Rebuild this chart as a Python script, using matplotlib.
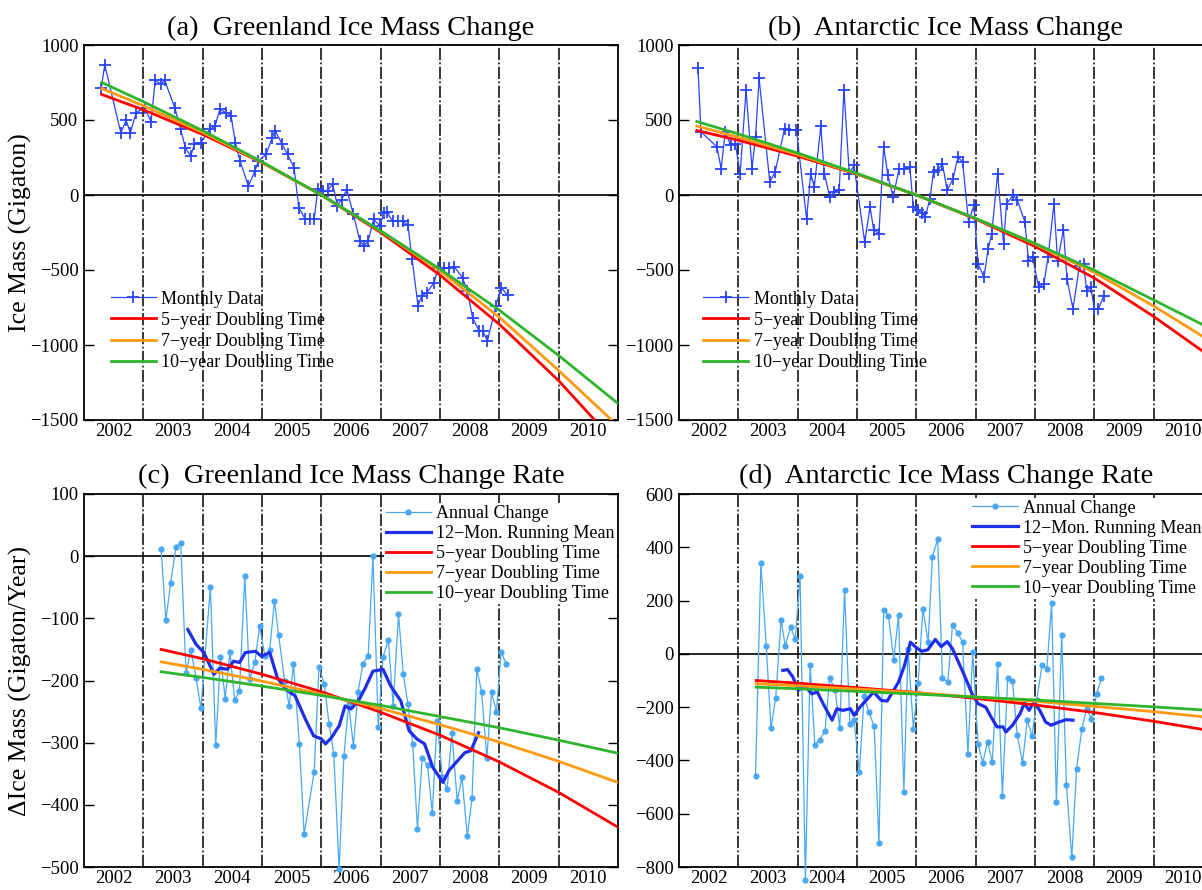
import matplotlib
matplotlib.use("Agg")
import matplotlib.pyplot as plt

plt.rcParams['font.family'] = ['Liberation Serif', 'DejaVu Serif']

# ---------------- data ----------------
years = [2002, 2003, 2004, 2005, 2006, 2007, 2008, 2009, 2010]
year_labels = [str(y) for y in years]
boundaries = [2003, 2004, 2005, 2006, 2007, 2008, 2009, 2010]

# (a) Greenland monthly ice mass (Gt)
t_gr = [2002.29, 2002.35, 2002.62, 2002.71, 2002.78, 2002.88,
        2003.02, 2003.13, 2003.20, 2003.30, 2003.36, 2003.53, 2003.63, 2003.71, 2003.80, 2003.86, 2003.97,
        2004.12, 2004.21, 2004.29, 2004.39, 2004.48, 2004.55, 2004.63, 2004.77, 2004.88, 2004.94,
        2005.07, 2005.17, 2005.22, 2005.34, 2005.43, 2005.54, 2005.62, 2005.73, 2005.81, 2005.88,
        2005.94, 2006.03, 2006.11, 2006.19, 2006.27, 2006.34, 2006.43, 2006.54,
        2006.65, 2006.72, 2006.79, 2006.88, 2006.99,
        2007.05, 2007.10, 2007.20, 2007.29, 2007.37, 2007.46, 2007.53, 2007.63, 2007.69, 2007.78, 2007.90, 2007.97,
        2008.07, 2008.15, 2008.24, 2008.38, 2008.46, 2008.55, 2008.66, 2008.72, 2008.80, 2008.94,
        2009.03, 2009.14]
m_gr = [711, 867, 416, 498, 416, 549,
        582, 489, 764, 738, 764, 582, 438, 311, 260, 338, 349,
        438, 460, 571, 549, 527, 349, 227, 60, 160, 227,
        271, 380, 430, 338, 271, 182, -84, -162, -162, -162,
        40, 30, 30, 75, -70, -30, 35, -129,
        -307, -340, -307, -162, -207,
        -118, -113, -173, -173, -173, -202, -429, -740, -673, -651, -584, -484,
        -484, -484, -478, -551, -640, -818, -907, -907, -973, -740,
        -618, -667]

# (b) Antarctic monthly ice mass (Gt)
t_an = [2002.32, 2002.37, 2002.64, 2002.71, 2002.78, 2002.87, 2002.95,
        2003.03, 2003.13, 2003.23, 2003.29, 2003.35, 2003.53, 2003.62, 2003.78, 2003.85, 2003.98,
        2004.15, 2004.22, 2004.28, 2004.39, 2004.45, 2004.54, 2004.62, 2004.70, 2004.78, 2004.87, 2004.95,
        2005.13, 2005.22, 2005.28, 2005.37, 2005.45, 2005.52, 2005.61, 2005.71, 2005.80, 2005.89, 2005.95,
        2006.02, 2006.10, 2006.15, 2006.23, 2006.29, 2006.36, 2006.44, 2006.52, 2006.62, 2006.70, 2006.78, 2006.88, 2006.97,
        2007.04, 2007.14, 2007.21, 2007.27, 2007.37, 2007.47, 2007.52, 2007.63, 2007.70, 2007.83, 2007.89, 2007.96,
        2008.06, 2008.15, 2008.22, 2008.32, 2008.38, 2008.48, 2008.54, 2008.64, 2008.75, 2008.82, 2008.87, 2008.94,
        2009.00, 2009.07, 2009.16]
m_an = [844, 421, 321, 176, 421, 332, 340,
        143, 699, 176, 388, 777, 87, 154, 443, 432, 432,
        -158, 143, 53, 459, 143, -13, 20, 31, 699, 143, 198,
        -314, -80, -230, -258, 321, 131, -13, 176, 176, 187, -80,
        -102, -120, -147, -24, 154, 165, 209, 31, 109, 254, 220, -180, -69,
        -459, -548, -359, -258, 143, -325, -58, -2, -31, -180, -437, -414,
        -615, -592, -414, -58, -437, -236, -559, -759, -470, -459, -637, -615,
        -759, -759, -670]

# doubling-time curves for ice mass (read at sample dates)
fit_t_mass = [2002.3, 2003, 2004, 2005, 2006, 2007, 2008, 2009, 2010, 2011]
gr_fit5 = [670, 568, 404, 216, 0, -249, -534, -862, -1238, -1670]
gr_fit7 = [710, 595, 417, 218, 0, -241, -505, -815, -1170, -1540]
gr_fit10 = [750, 622, 429, 221, 0, -239, -494, -768, -1070, -1390]
an_fit5 = [430, 365, 259, 139, 0, -160, -343, -554, -810, -1090]
an_fit7 = [460, 385, 270, 141, 0, -156, -327, -517, -740, -985]
an_fit10 = [490, 407, 280, 144, 0, -156, -323, -502, -700, -899]

# (c) Greenland annual change (Gt/yr)
t_grr = [2003.30, 2003.38, 2003.46, 2003.55, 2003.63, 2003.72, 2003.80, 2003.89, 2003.97,
         2004.13, 2004.22, 2004.30, 2004.38, 2004.46, 2004.54, 2004.62, 2004.71, 2004.79, 2004.88, 2004.96,
         2005.05, 2005.13, 2005.21, 2005.28, 2005.38, 2005.46, 2005.53, 2005.63, 2005.71, 2005.88, 2005.96,
         2006.05, 2006.13, 2006.21, 2006.30, 2006.38, 2006.46, 2006.54, 2006.62, 2006.70, 2006.79, 2006.87, 2006.96,
         2007.04, 2007.13, 2007.21, 2007.30, 2007.38, 2007.46, 2007.54, 2007.62, 2007.70, 2007.79, 2007.87, 2007.95,
         2008.04, 2008.12, 2008.20, 2008.29, 2008.37, 2008.46, 2008.54, 2008.62, 2008.70, 2008.79, 2008.87, 2008.95,
         2009.03, 2009.12]
r_grr = [11, -103, -43, 15, 21, -188, -151, -196, -245,
         -50, -304, -162, -229, -154, -232, -217, -32, -198, -170, -113,
         -161, -151, -72, -127, -200, -241, -173, -302, -447, -347, -178,
         -206, -270, -318, -504, -322, -238, -305, -218, -173, -160, 0, -274,
         -162, -135, -241, -93, -189, -238, -302, -439, -324, -336, -413, -265,
         -355, -375, -284, -394, -356, -450, -389, -181, -218, -324, -218, -251,
         -154, -174]
t_grm = [2003.75, 2003.89, 2004.02, 2004.19, 2004.29, 2004.42, 2004.52, 2004.62, 2004.72, 2004.89, 2004.99,
         2005.13, 2005.26, 2005.40, 2005.56, 2005.73, 2005.87,
         2006.00, 2006.07, 2006.17, 2006.30, 2006.40, 2006.50, 2006.64, 2006.74, 2006.87,
         2007.04, 2007.17, 2007.34, 2007.48, 2007.61, 2007.74, 2007.88,
         2008.05, 2008.15, 2008.25, 2008.42, 2008.52, 2008.65]
v_grm = [-118, -142, -155, -190, -180, -182, -169, -171, -155, -153, -161,
         -155, -196, -214, -225, -262, -289,
         -294, -302, -292, -273, -241, -246, -230, -212, -185,
         -182, -209, -233, -281, -294, -302, -340,
         -364, -345, -334, -316, -313, -284]

# (d) Antarctic annual change (Gt/yr)
t_anr = [2003.29, 2003.38, 2003.47, 2003.55, 2003.63, 2003.72, 2003.79, 2003.88, 2003.96,
         2004.04, 2004.13, 2004.21, 2004.29, 2004.37, 2004.46, 2004.54, 2004.63, 2004.71, 2004.79, 2004.88, 2004.95,
         2005.04, 2005.12, 2005.20, 2005.29, 2005.37, 2005.45, 2005.53, 2005.62, 2005.70, 2005.79, 2005.86, 2005.95,
         2006.03, 2006.11, 2006.20, 2006.27, 2006.36, 2006.44, 2006.53, 2006.61, 2006.70, 2006.78, 2006.87, 2006.95,
         2007.04, 2007.12, 2007.20, 2007.28, 2007.37, 2007.45, 2007.54, 2007.62, 2007.70, 2007.79, 2007.87, 2007.95,
         2008.03, 2008.12, 2008.20, 2008.28, 2008.36, 2008.45, 2008.53, 2008.62, 2008.70, 2008.79, 2008.87, 2008.95,
         2009.04, 2009.12]
r_anr = [-458, 340, 31, -278, -165, 127, 31, 100, 56,
         293, -850, -41, -343, -322, -291, -91, -135, -278, 241, -262, -247,
         -443, -160, -218, -272, -711, 166, 143, -22, 146, -517, 19, -281,
         -110, 168, 44, 365, 430, -91, -106, 108, 77, 44, -374, 6,
         -337, -409, -330, -405, -37, -532, -91, -103, -303, -408, -249, -308,
         -172, -41, -56, 190, -555, 72, -493, -764, -433, -281, -206, -243,
         -150, -91]
t_anm = [2003.75, 2003.83, 2003.92,
         2004.01, 2004.11, 2004.24, 2004.33, 2004.46, 2004.58, 2004.66, 2004.76, 2004.89, 2004.95,
         2005.05, 2005.18, 2005.28, 2005.41, 2005.51, 2005.60, 2005.70, 2005.80, 2005.90, 2005.99,
         2006.09, 2006.19, 2006.32, 2006.42, 2006.52, 2006.61, 2006.71, 2006.81, 2006.94,
         2007.04, 2007.17, 2007.26, 2007.36, 2007.46, 2007.51, 2007.62, 2007.75, 2007.82, 2007.90, 2007.98,
         2008.08, 2008.18, 2008.27, 2008.40, 2008.53, 2008.64]
v_anm = [-62, -59, -87,
         -137, -118, -150, -143, -200, -249, -206, -212, -206, -231,
         -200, -168, -143, -175, -177, -143, -106, -44, 44, 25,
         10, 15, 54, 27, 46, 19, -31, -81, -150,
         -187, -200, -237, -274, -274, -293, -268, -224, -185, -212, -181,
         -212, -256, -268, -256, -247, -249]

# doubling-time curves for rates (read at sample dates)
fit_t_rate = [2003.3, 2004, 2005, 2006, 2007, 2008, 2009, 2010, 2011]
grr_fit5 = [-150, -165, -190, -218, -251, -288, -331, -380, -436]
grr_fit7 = [-170, -182, -201, -222, -245, -271, -299, -330, -364]
grr_fit10 = [-186, -195, -209, -224, -240, -258, -276, -296, -317]
anr_fit5 = [-100, -110, -127, -145, -167, -192, -220, -253, -290]
anr_fit7 = [-112, -120, -132, -146, -162, -178, -197, -217, -240]
anr_fit10 = [-125, -131, -141, -151, -162, -173, -186, -199, -213]

fit_labels = ['5\u2212year Doubling Time', '7\u2212year Doubling Time', '10\u2212year Doubling Time']

# ---------------- style ----------------
C_RED = '#ff0000'
C_ORG = '#ff9a10'
C_GRN = '#2db52d'
C_MON = '#2a44ff'
C_ANN = '#4aa8f2'
C_RUN = '#1f2ee8'

W, H = 1202, 890
fig = plt.figure(figsize=(W / 100, H / 100), dpi=100)


def add_ax(left, top, w=534, h=375):
    return fig.add_axes([left / W, 1 - (top + h) / H, w / W, h / H])


def style(ax, ylim, yticks):
    ax.set_xlim(2002, 2011)
    ax.set_ylim(*ylim)
    ax.set_yticks(yticks)
    ax.set_xticks([y + 0.5 for y in years])
    ax.set_xticklabels(year_labels)
    ax.tick_params(axis='x', length=0, pad=2, labelsize=13.5)
    ax.tick_params(axis='y', direction='in', length=7, width=1, right=True, labelsize=13.5, pad=4)
    for sp in ax.spines.values():
        sp.set_linewidth(1.3)
    for b in boundaries:
        ax.axvline(b, color='black', lw=1.1, ls=(0, (8, 1.6, 1.2, 1.6)), zorder=1)
    ax.axhline(0, color='black', lw=1.2, zorder=1)


ax_a = add_ax(84, 45)
ax_b = add_ax(679, 45)
ax_c = add_ax(84, 494, h=373)
ax_d = add_ax(679, 494, h=373)

mass_ticks = [-1500, -1000, -500, 0, 500, 1000]
for ax, t, m, f5, f7, f10, title in [
        (ax_a, t_gr, m_gr, gr_fit5, gr_fit7, gr_fit10, '(a)  Greenland Ice Mass Change'),
        (ax_b, t_an, m_an, an_fit5, an_fit7, an_fit10, '(b)  Antarctic Ice Mass Change')]:
    style(ax, (-1500, 1000), mass_ticks)
    ax.plot(t, m, color=C_MON, lw=0.9, marker='+', ms=9, mew=1.3, zorder=3, label='Monthly Data')
    ax.plot(fit_t_mass, f5, color=C_RED, lw=2, zorder=4, label=fit_labels[0])
    ax.plot(fit_t_mass, f7, color=C_ORG, lw=2, zorder=4, label=fit_labels[1])
    ax.plot(fit_t_mass, f10, color=C_GRN, lw=2, zorder=4, label=fit_labels[2])
    ax.set_title(title, fontsize=20.5, pad=7)

ax_a.legend(loc='upper left', bbox_to_anchor=(0.05, 0.345), frameon=False, fontsize=13,
            handlelength=2.5, handletextpad=0.3, labelspacing=0.23, borderpad=0,
            borderaxespad=0, numpoints=1)
ax_b.legend(loc='upper left', bbox_to_anchor=(0.045, 0.345), frameon=False, fontsize=13,
            handlelength=2.5, handletextpad=0.3, labelspacing=0.23, borderpad=0,
            borderaxespad=0, numpoints=1)

for ax, t, r, tm, vm, f5, f7, f10, title, ylim, yt, anchor in [
        (ax_c, t_grr, r_grr, t_grm, v_grm, grr_fit5, grr_fit7, grr_fit10,
         '(c)  Greenland Ice Mass Change Rate', (-500, 100), list(range(-500, 101, 100)), (0.562, 0.975)),
        (ax_d, t_anr, r_anr, t_anm, v_anm, anr_fit5, anr_fit7, anr_fit10,
         '(d)  Antarctic Ice Mass Change Rate', (-800, 600), list(range(-800, 601, 200)), (0.546, 0.99))]:
    style(ax, ylim, yt)
    ax.plot(t, r, color=C_ANN, lw=0.9, marker='o', ms=4.5, mew=0, zorder=3,
            clip_on=False, label='Annual Change')
    ax.plot(tm, vm, color=C_RUN, lw=2.3, zorder=4, label='12\u2212Mon. Running Mean')
    ax.plot(fit_t_rate, f5, color=C_RED, lw=2, zorder=5, label=fit_labels[0])
    ax.plot(fit_t_rate, f7, color=C_ORG, lw=2, zorder=5, label=fit_labels[1])
    ax.plot(fit_t_rate, f10, color=C_GRN, lw=2, zorder=5, label=fit_labels[2])
    ax.set_title(title, fontsize=20.5, pad=8)
    leg = ax.legend(loc='upper left', bbox_to_anchor=anchor, frameon=True, fancybox=False,
                    facecolor='white', edgecolor='none', framealpha=1, fontsize=13,
                    handlelength=2.5, handletextpad=0.3, labelspacing=0.17, borderpad=0.1,
                    borderaxespad=0, numpoints=1)
    leg.set_zorder(6)

ax_a.set_ylabel('Ice Mass (Gigaton)', fontsize=18.5)
ax_c.set_ylabel('\u0394Ice Mass (Gigaton/Year)', fontsize=18.5)
ax_a.yaxis.set_label_coords(-0.098, 0.5)
ax_c.yaxis.set_label_coords(-0.098, 0.5)

fig.savefig('out.png', dpi=100)
